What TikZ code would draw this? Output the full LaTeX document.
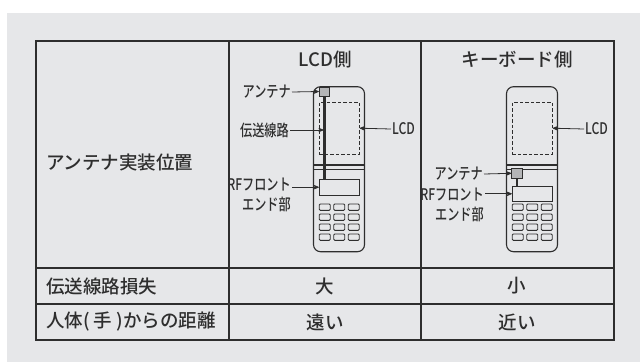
\documentclass[tikz,border=0pt]{standalone}
\usepackage{fontspec}
\setmainfont{Noto Sans CJK JP}[UprightFont=* Medium]
\newfontfamily\condfont{Noto Sans CJK JP}[UprightFont=* Medium,FakeStretch=0.76]
\usepackage{xcolor}
\usepackage{tikz}
\usetikzlibrary{positioning,arrows}
\definecolor{panel}{HTML}{E6E7E9}
\definecolor{ink}{HTML}{2E2E2E}
\definecolor{antgray}{HTML}{B4B5B7}

\begin{document}
\begin{tikzpicture}[x=1pt,y=-1pt,>=stealth',ink,
    cell/.style={font=\fontsize{18.5}{20}\selectfont,text=ink,inner sep=2pt},
    lab/.style={font=\condfont\fontsize{16}{20}\selectfont,text=ink,inner sep=1pt,align=right},
    part/.style={draw,inner sep=0pt,line width=0.9pt}]
    \useasboundingbox (0,0) rectangle (640,362);
    \fill[panel] (7,13) rectangle (640,362);
    % table
    \draw[line width=1.2pt] (36,41) rectangle (614,340);
    \draw[line width=1.2pt] (229,41) -- (229,340) (421,41) -- (421,340)
      (36,268) -- (614,268) (36,304) -- (614,304);
    \node[cell] (lcdside) at (325,60) {LCD側};
    \node[cell] (keyside) at (517,60) {キーボード側};
    \node[cell,anchor=west] (pos) at (44,163) {アンテナ実装位置};
    \node[cell,anchor=west] (loss) at (44,286) {伝送線路損失};
    \node[cell,anchor=west] (dist) at (44,322) {人体( 手 )からの距離};
    \node[cell] (loss1) at (325,286) {大};
    \node[cell] (loss2) at (517,286) {小};
    \node[cell] (dist1) at (325,322) {遠い};
    \node[cell] (dist2) at (517,322) {近い};
    % phones
    \foreach \px in {313.5,506.5} {
      \draw[line width=1.1pt,rounded corners=7pt] (\px,86.7) rectangle +(51,165);
      \draw[line width=1.1pt] (\px,165) -- +(51,0) (\px,169.3) -- +(51,0);
      \foreach \i in {0,1,2}
        \foreach \j in {0,1,2,3}
          \draw[line width=0.9pt,rounded corners=1pt] (\px+5.7+14.5*\i,204+10*\j) rectangle +(11,6.3);
    }
    % LCD side
    \node[part,dash pattern=on 3.5pt off 2pt,minimum width=40pt,minimum height=51.7pt] (lcd1) at (339.3,128.2) {};
    \node[part,minimum width=40pt,minimum height=15.7pt] (rf1) at (339.3,187.2) {};
    \node[part,fill=antgray,minimum width=10.5pt,minimum height=9pt] (ant1) at (324.5,91.5) {};
    \draw[line width=2.2pt] (ant1.south) -- (ant1.south |- rf1.north);
    \coordinate (line1) at (323.5,130);
    \node[lab,anchor=east] (antlab1) at (292,92) {アンテナ};
    \node[lab,anchor=east] (linelab1) at (290,130) {伝送線路};
    \node[lab,anchor=west] (lcdlab1) at (391,129) {LCD};
    \node[lab,anchor=east] (rflab1) at (292,195) {RFフロント\\エンド部};
    \draw[->,line width=0.8pt] (antlab1.east) -- (ant1.west);
    \draw[->,line width=0.8pt] (linelab1.east) -- (line1);
    \draw[->,line width=0.8pt] (lcdlab1.west) -- (lcd1.east);
    \draw[->,line width=0.8pt] (rflab1.east |- rf1.west) -- (rf1.west);
    % keyboard side
    \node[part,dash pattern=on 3.5pt off 2pt,minimum width=40pt,minimum height=51.7pt] (lcd2) at (532.3,128.2) {};
    \node[part,minimum width=40pt,minimum height=15.7pt] (rf2) at (532.3,193.8) {};
    \node[part,fill=antgray,minimum width=10.5pt,minimum height=9.5pt] (ant2) at (517,173.3) {};
    \draw[line width=2.2pt] (ant2.south) -- (ant2.south |- rf2.north);
    \node[lab,anchor=east] (antlab2) at (484,174) {アンテナ};
    \node[lab,anchor=west] (lcdlab2) at (584,129) {LCD};
    \node[lab,anchor=east] (rflab2) at (485,205) {RFフロント\\エンド部};
    \draw[->,line width=0.8pt] (antlab2.east) -- (ant2.west);
    \draw[->,line width=0.8pt] (lcdlab2.west) -- (lcd2.east);
    \draw[->,line width=0.8pt] (rflab2.east |- rf2.west) -- (rf2.west);
\end{tikzpicture}
\end{document}
